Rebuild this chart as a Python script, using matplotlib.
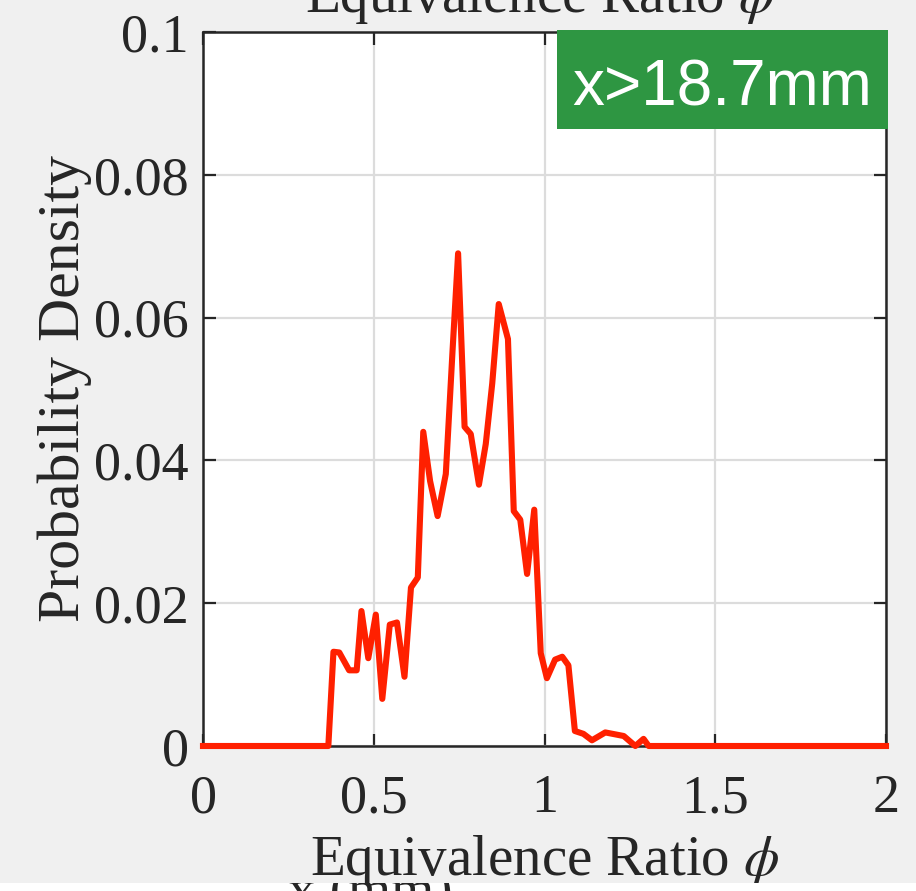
import matplotlib
matplotlib.use('Agg')
import matplotlib.pyplot as plt
from matplotlib.patches import Rectangle

# PDF of equivalence ratio downstream of x = 18.7 mm
PHI = [0.0, 0.367, 0.382, 0.399, 0.428, 0.450, 0.464, 0.484, 0.506, 0.525,
       0.547, 0.568, 0.590, 0.609, 0.629, 0.645, 0.665, 0.687, 0.711, 0.731,
       0.747, 0.766, 0.784, 0.808, 0.828, 0.847, 0.866, 0.893, 0.910, 0.929,
       0.949, 0.970, 0.989, 1.007, 1.031, 1.052, 1.070, 1.089, 1.114, 1.139,
       1.178, 1.232, 1.266, 1.290, 1.305, 2.0]
PDF = [0.0, 0.0, 0.0132, 0.0131, 0.0106, 0.0106, 0.0189, 0.0123, 0.0184, 0.0066,
       0.0170, 0.0173, 0.0097, 0.0222, 0.0236, 0.0440, 0.0371, 0.0322, 0.0381, 0.0556,
       0.0690, 0.0447, 0.0437, 0.0366, 0.0423, 0.0508, 0.0619, 0.0570, 0.0329, 0.0317,
       0.0241, 0.0331, 0.0130, 0.0095, 0.0121, 0.0125, 0.0113, 0.0021, 0.0017, 0.0008,
       0.0019, 0.0014, 0.0, 0.0010, 0.0, 0.0]

X_TICKS = [0, 0.5, 1, 1.5, 2]
X_TICK_LABELS = ['0', '0.5', '1', '1.5', '2']
Y_TICKS = [0, 0.02, 0.04, 0.06, 0.08, 0.1]
Y_TICK_LABELS = ['0', '0.02', '0.04', '0.06', '0.08', '0.1']

XLABEL = r'Equivalence Ratio $\phi$'
YLABEL = 'Probability Density'
TAG = 'x>18.7mm'

plt.rcParams['font.family'] = ['Liberation Serif', 'DejaVu Serif']
plt.rcParams['mathtext.fontset'] = 'stix'

W, H = 916, 891
fig = plt.figure(figsize=(W / 100, H / 100), dpi=100, facecolor='#f0f0f0')
ax = fig.add_axes([203 / W, 1 - 746 / H, (886 - 203) / W, (746 - 32) / H])
ax.set_facecolor('white')

ax.plot(PHI, PDF, color='#ff2000', lw=4.4, solid_joinstyle='round',
        zorder=3, clip_on=False)

ax.set_xlim(0, 2)
ax.set_ylim(0, 0.1)
ax.set_xticks(X_TICKS)
ax.set_xticklabels(X_TICK_LABELS)
ax.set_yticks(Y_TICKS)
ax.set_yticklabels(Y_TICK_LABELS)
ax.grid(True, color='#dcdcdc', lw=1.6)
ax.set_axisbelow(True)
ax.tick_params(direction='in', length=9, width=1.6, colors='#262626',
               top=True, right=True, labelsize=39)
ax.tick_params(axis='x', pad=20)
ax.tick_params(axis='y', pad=10)
for sp in ax.spines.values():
    sp.set_color('#262626')
    sp.set_linewidth(1.8)

ax.set_xlabel(XLABEL, fontsize=41, color='#262626', labelpad=6)
ax.set_ylabel(YLABEL, fontsize=43, color='#262626', labelpad=2)

# title of the panel above, mostly off the top edge
fig.text(540 / W, 1 - 12 / H, XLABEL, fontsize=41, color='#262626',
         ha='center', va='baseline')

# green location tag in the top-right corner
fig.patches.append(Rectangle((557 / W, 1 - 129 / H), (888 - 557) / W, 99 / H,
                             transform=fig.transFigure, facecolor='#2e9642',
                             edgecolor='none', zorder=5))
fig.text(722 / W, 1 - 82 / H, TAG, fontsize=46, color='white',
         family=['Liberation Sans', 'DejaVu Sans'], ha='center',
         va='center_baseline', zorder=6)

# strip of the panel below
strip = fig.add_axes([0, 0, 1, 8 / H], facecolor='white')
strip.set_xticks([])
strip.set_yticks([])
for sp in strip.spines.values():
    sp.set_visible(False)
strip.text(370 / W, -17 / 8, 'x (mm)', fontsize=40, color='#262626',
           ha='center', va='baseline', transform=strip.transAxes, clip_on=True)

fig.savefig('out.png', dpi=100, facecolor=fig.get_facecolor())
